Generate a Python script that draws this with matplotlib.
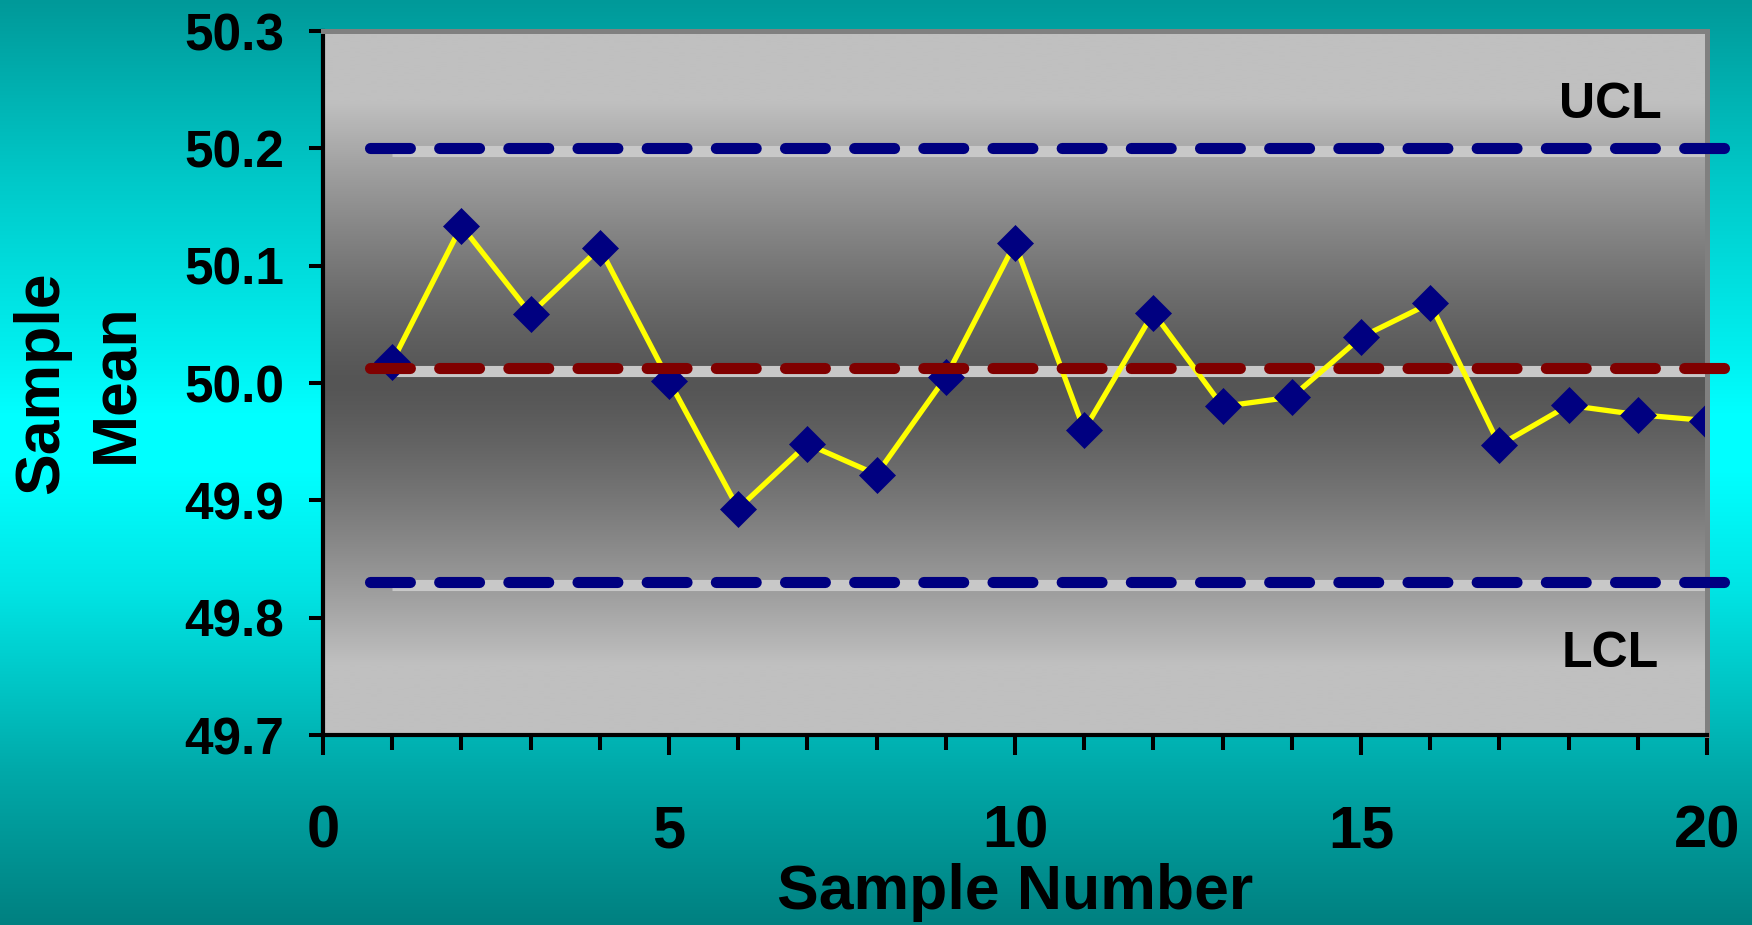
import numpy as np
import matplotlib
matplotlib.use("Agg")
import matplotlib.pyplot as plt
import matplotlib.transforms as mtransforms
from matplotlib.ticker import MultipleLocator, FormatStrFormatter

# X-bar chart data
samples = list(range(1, 21))
sample_means = [50.018, 50.134, 50.059, 50.115, 50.002, 49.893, 49.948, 49.922,
                50.005, 50.119, 49.960, 50.060, 49.980, 49.988, 50.039, 50.068,
                49.947, 49.981, 49.973, 49.968]
center_line = 50.013
ucl = 50.2
lcl = 49.83
x_ticks = [0, 5, 10, 15, 20]
y_ticks = [49.7, 49.8, 49.9, 50.0, 50.1, 50.2, 50.3]

plt.rcParams['font.family'] = ['Liberation Sans', 'DejaVu Sans']
plt.rcParams['font.weight'] = 'bold'

W, H, DPI = 1752, 925, 100
fig = plt.figure(figsize=(W / DPI, H / DPI), dpi=DPI)

# teal backdrop, brightest across the middle
bg = fig.add_axes([0, 0, 1, 1], zorder=-10)
rows = np.arange(H)
stop_rows = [0, 177, 354, 413, 472, 590, 708, 767, 925]
stop_vals = [153, 200, 240, 255, 255, 228, 190, 170, 128]
g = np.interp(rows, stop_rows, stop_vals) / 255
backdrop = np.zeros((H, 1, 3))
backdrop[:, 0, 1] = g
backdrop[:, 0, 2] = g
bg.imshow(backdrop, aspect='auto', extent=[0, 1, 0, 1], origin='upper')
bg.set_axis_off()

# plotting panel
left, right, top, bottom = 323, 1707, 31, 735
ax = fig.add_axes([left / W, (H - bottom) / H, (right - left) / W, (bottom - top) / H])
ax.set_xlim(0, 20)
ax.set_ylim(49.7, 50.3)

# grey fill, darkest through the centre
ny = 500
yy = np.linspace(0, 1, ny)
d = np.abs(yy - 0.5) / 0.5
v = (85 + 107 * np.clip(d / 0.8, 0, 1) ** 1.3) / 255
panel = np.repeat(v[:, None, None], 3, axis=2)
ax.imshow(panel, aspect='auto', extent=[0, 20, 49.7, 50.3], origin='lower',
          zorder=0, interpolation='bilinear')

# control limits and centre line
lw_ctrl = 8
shift_down = ax.transData + mtransforms.ScaledTranslation(0, -3 / DPI, fig.dpi_scale_trans)
for val, col in [(ucl, '#000080'), (center_line, '#800000'), (lcl, '#000080')]:
    ax.plot([1, 20], [val, val], color='#c8c8c8', lw=lw_ctrl,
            solid_capstyle='butt', zorder=1, transform=shift_down)
    ax.plot([0.68, 20.25], [val, val], color=col, lw=lw_ctrl, ls=(0, (3.59, 2.635)),
            dash_capstyle='round', clip_on=False, zorder=4)

# sample means
ax.plot(samples, sample_means, color='#ffff00', lw=3.8, zorder=2,
        marker='D', ms=18, mfc='#000080', mec='#000080', mew=0.5)

ax.text(18.6, 50.2256, 'UCL', fontsize=36, fontweight='bold', ha='center', va='baseline', zorder=5)
ax.text(18.6, 49.758, 'LCL', fontsize=36, fontweight='bold', ha='center', va='baseline', zorder=5)

# spines
for s in ['left', 'bottom']:
    ax.spines[s].set_color('black')
    ax.spines[s].set_linewidth(3)
for s in ['top', 'right']:
    ax.spines[s].set_color('#808080')
    ax.spines[s].set_linewidth(3.6)

# ticks
ax.set_xticks(x_ticks)
ax.xaxis.set_minor_locator(MultipleLocator(1))
ax.set_yticks(y_ticks)
ax.yaxis.set_major_formatter(FormatStrFormatter('%.1f'))
ax.tick_params(axis='x', which='major', direction='out', length=14.4, width=2.9,
               labelsize=43, pad=36, color='black')
ax.tick_params(axis='x', which='minor', direction='out', length=10.8, width=2.9, color='black')
ax.tick_params(axis='y', which='major', direction='out', length=10, width=2.9,
               labelsize=37, pad=18, color='black')

ax.set_xlabel('Sample Number', fontsize=45, fontweight='bold')
ax.xaxis.set_label_coords(0.5, -0.182)
ax.set_ylabel('Sample\nMean', fontsize=45, fontweight='bold', linespacing=1.32)
ax.yaxis.set_label_coords(-0.1285, 0.5)

fig.savefig('out.png', dpi=DPI)
